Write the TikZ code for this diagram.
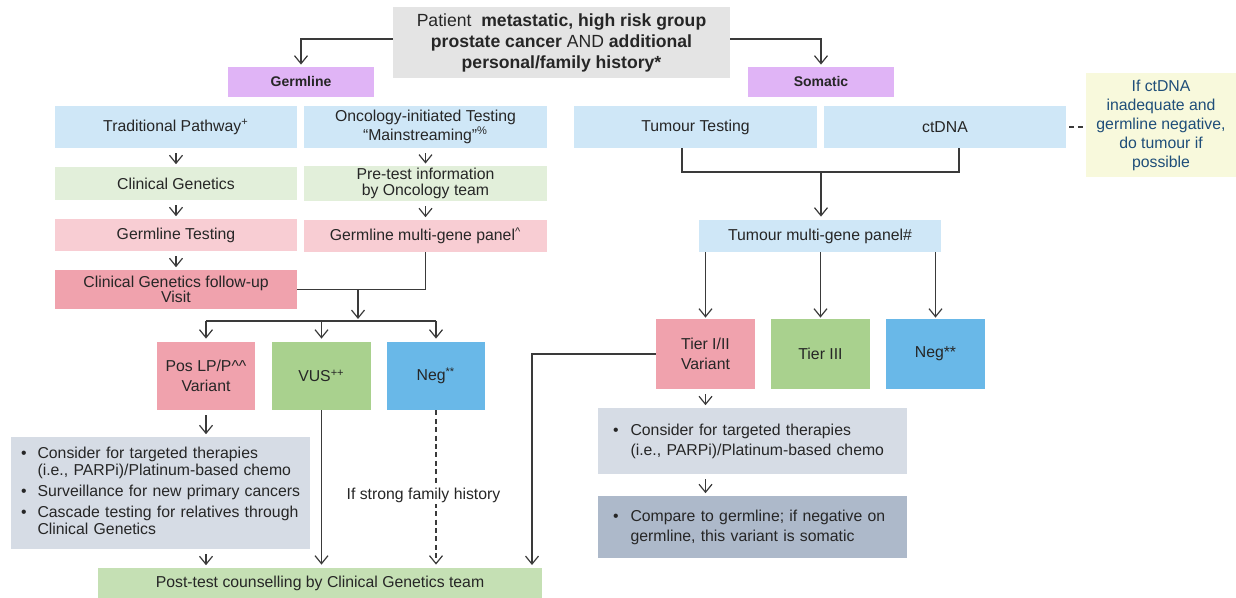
\documentclass[tikz,border=0pt]{standalone}
\usepackage{fontspec}
\setmainfont{Liberation Sans}
\usetikzlibrary{arrows.meta}
\definecolor{ink}{HTML}{262626}
\definecolor{wirecol}{HTML}{3A3A3A}
\definecolor{topgray}{HTML}{E4E4E4}
\definecolor{lilac}{HTML}{E0B4F6}
\definecolor{skybg}{HTML}{CFE7F7}
\definecolor{mintbg}{HTML}{E2EFDA}
\definecolor{rosebg}{HTML}{F8CDD3}
\definecolor{rosedk}{HTML}{F0A2AD}
\definecolor{leaf}{HTML}{A9D18E}
\definecolor{azure}{HTML}{69B8E8}
\definecolor{slatebg}{HTML}{D6DCE5}
\definecolor{slatedk}{HTML}{ADB9CA}
\definecolor{sagebg}{HTML}{C5E0B4}
\definecolor{notebg}{HTML}{F8F9DC}
\definecolor{noteink}{HTML}{1F4E79}
\newcommand{\bodyfont}{\fontsize{7.9}{7.8}\selectfont}
\newcommand{\tallfont}{\fontsize{7.9}{10}\selectfont}
\newcommand{\listfont}{\fontsize{7.9}{8.5}\selectfont}
\tikzset{
  cell/.style={rectangle,inner sep=1pt,align=center,text=ink,font=\bodyfont},
  headcell/.style={cell,fill=topgray,font=\fontsize{8.8}{10.5}\selectfont},
  tagcell/.style={cell,fill=lilac,font=\fontsize{7}{8}\selectfont\bfseries},
  skycell/.style={cell,fill=skybg},
  mintcell/.style={cell,fill=mintbg},
  rosecell/.style={cell,fill=rosebg},
  redcell/.style={cell,fill=rosedk},
  leafcell/.style={cell,fill=leaf},
  azurecell/.style={cell,fill=azure},
  listcell/.style={cell,fill=slatebg,align=left,font=\listfont},
  notecell/.style={cell,fill=notebg,text=noteink,font=\fontsize{7.9}{9.5}\selectfont},
  wire/.style={draw=wirecol,line width=0.6pt},
  arr/.style={wire,-{Straight Barb[length=4pt,width=6.5pt]}},
  garr/.style={arr,shorten <=2.5pt,shorten >=1.2pt},
  dashwire/.style={wire,dash pattern=on 2.5pt off 1.7pt}
}
\begin{document}
\begin{tikzpicture}[x=0.5pt,y=-0.5pt]
  \useasboundingbox (0,0) rectangle (1236,598);

  % top and branches
  \node[headcell,minimum width=168.5pt,minimum height=35.5pt] (top) at (561.5,42.5)
    {Patient\ \ \textbf{metastatic, high risk group}\\
     \textbf{prostate cancer} AND \textbf{additional}\\
     \textbf{personal/family history*}};
  \node[tagcell,minimum width=73pt,minimum height=15pt] (germ) at (301,82) {Germline};
  \node[tagcell,minimum width=73pt,minimum height=15pt] (soma) at (821,82) {Somatic};
  \draw[arr,shorten >=1pt] ([yshift=1.75pt]top.west) -| (germ.north);
  \draw[arr,shorten >=1pt] ([yshift=1.75pt]top.east) -| (soma.north);

  % germline side
  \node[skycell,minimum width=121pt,minimum height=21pt] (trad) at (176,127)
    {Traditional Pathway\textsuperscript{+}};
  \node[skycell,minimum width=121.5pt,minimum height=21pt] (onco) at (425.5,127)
    {Oncology-initiated Testing\\``Mainstreaming''\textsuperscript{\%}};
  \node[mintcell,minimum width=121pt,minimum height=16.5pt] (clgen) at (176,183.5)
    {Clinical Genetics};
  \node[mintcell,minimum width=121.5pt,minimum height=16.5pt] (pret) at (425.5,183.5)
    {Pre-test information\\by Oncology team};
  \node[rosecell,minimum width=121pt,minimum height=16pt] (gtest) at (176,235)
    {Germline Testing};
  \node[rosecell,minimum width=121.5pt,minimum height=16pt] (gpanel) at (425.5,236)
    {Germline multi-gene panel\textsuperscript{\textasciicircum}};
  \node[redcell,minimum width=121pt,minimum height=19.5pt] (follow) at (176,289.5)
    {Clinical Genetics follow-up\\Visit};
  \draw[garr] (trad) -- (clgen);
  \draw[garr] (clgen) -- (gtest);
  \draw[garr] (gtest) -- (follow);
  \draw[garr] (onco) -- (pret);
  \draw[garr] (pret) -- (gpanel);
  \draw[wire] (gpanel.south) |- (follow.east);

  \coordinate (gj) at (358,289.5);
  \coordinate (gbar) at (358,321);
  \node[redcell,font=\tallfont,minimum width=49pt,minimum height=34pt] (pos) at (206,376)
    {Pos LP/P\textasciicircum\textasciicircum\\Variant};
  \node[leafcell,font=\tallfont,minimum width=49.5pt,minimum height=34pt] (vus) at (321.5,376)
    {VUS\textsuperscript{++}};
  \node[azurecell,font=\tallfont,minimum width=49pt,minimum height=34pt] (neg) at (436,376)
    {Neg\textsuperscript{**}};
  \draw[arr,shorten >=1pt] (gj) -- (gbar);
  \draw[wire] (pos.north |- gbar) -- (neg.north |- gbar);
  \foreach \b in {pos,vus,neg}
    \draw[arr,shorten >=1.5pt] (\b.north |- gbar) -- (\b.north);

  \node[listcell,inner xsep=5pt,text width=139.5pt,minimum width=149.5pt,minimum height=56pt] (bul) at (160.5,493)
    {\begin{tabular}{@{}l@{\hspace{5.5pt}}l@{}}
      \textbullet & Consider for targeted therapies\\
                  & (i.e., PARPi)/Platinum-based chemo\\[2.2pt]
      \textbullet & Surveillance for new primary cancers\\[2.2pt]
      \textbullet & Cascade testing for relatives through\\
                  & Clinical Genetics
     \end{tabular}};
  \node[cell,fill=sagebg,minimum width=222pt,minimum height=15pt] (post) at (320,583)
    {Post-test counselling by Clinical Genetics team};
  \draw[garr] (pos) -- (pos |- bul.north);
  \draw[garr] (pos.south |- bul.south) -- (pos.south |- post.north);
  \draw[arr,shorten >=1.5pt] (vus.south) -- (vus.south |- post.north);
  \draw[dashwire,-{Straight Barb[length=4pt,width=6.5pt]},shorten >=1.5pt]
    (neg.south) -- (neg.south |- post.north);
  \node[cell,fill=white] (lbl) at (423.5,495) {If strong family history};

  % somatic side
  \node[skycell,minimum width=121.5pt,minimum height=21pt] (tumt) at (695.5,127)
    {Tumour Testing};
  \node[skycell,minimum width=121pt,minimum height=21pt] (ctdna) at (945,127)
    {ctDNA};
  \node[notecell,minimum width=75pt,minimum height=52pt] (note) at (1161,125)
    {If ctDNA\\inadequate and\\germline negative,\\do tumour if\\possible};
  \draw[dashwire,shorten <=1.5pt] (ctdna.east) -- (ctdna.east -| note.west);

  \coordinate (sl) at (682,172);
  \coordinate (sr) at (959,172);
  \coordinate (sj) at (821,172);
  \node[skycell,minimum width=121pt,minimum height=16pt] (tpanel) at (820,236)
    {Tumour multi-gene panel\#};
  \draw[wire] (tumt.south -| sl) -- (sl) -- (sr) -- (ctdna.south -| sr);
  \draw[arr,shorten >=1.5pt] (sj) -- (sj |- tpanel.north);

  \node[redcell,font=\tallfont,minimum width=49.5pt,minimum height=35pt] (tier12) at (705.5,354)
    {Tier I/II\\Variant};
  \node[leafcell,font=\tallfont,minimum width=49.5pt,minimum height=35pt] (tier3) at (820.5,354)
    {Tier III};
  \node[azurecell,font=\tallfont,minimum width=49.5pt,minimum height=35pt] (tneg) at (935.5,354)
    {Neg**};
  \foreach \t in {tier12,tier3,tneg}
    \draw[arr,shorten >=0.5pt] (tpanel.south -| \t.north) -- (\t.north);

  \node[listcell,font=\tallfont,inner xsep=7.5pt,text width=139.5pt,minimum width=154.5pt,minimum height=33pt] (tbul) at (752.5,441)
    {\begin{tabular}{@{}l@{\hspace{6pt}}l@{}}
      \textbullet & Consider for targeted therapies\\
                  & (i.e., PARPi)/Platinum-based chemo
     \end{tabular}};
  \node[listcell,font=\tallfont,fill=slatedk,inner xsep=7.5pt,text width=139.5pt,minimum width=154.5pt,minimum height=31pt] (tcomp) at (752.5,527)
    {\begin{tabular}{@{}l@{\hspace{6pt}}l@{}}
      \textbullet & Compare to germline; if negative on\\
                  & germline, this variant is somatic
     \end{tabular}};
  \draw[garr] (tier12) -- (tier12 |- tbul.north);
  \draw[garr] (tier12.south |- tbul.south) -- (tier12.south |- tcomp.north);

  \coordinate (pr) at (532,568);
  \draw[arr,shorten >=1.5pt] (tier12.west) -| (pr);
\end{tikzpicture}
\end{document}
